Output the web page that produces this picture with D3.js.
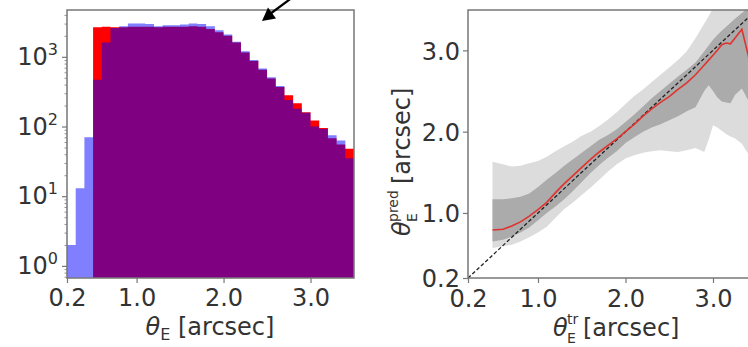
<!DOCTYPE html>
<html>
<head>
<meta charset="utf-8">
<script src="https://cdn.jsdelivr.net/npm/d3@7"></script>
<style>
  html, body { margin: 0; padding: 0; background: #fff; }
  svg { display: block; }
  text { font-family: "DejaVu Sans", sans-serif; fill: #333; }
</style>
</head>
<body>
<svg id="chart" width="748" height="347"></svg>
<script>
// ---------------- DATA ----------------
// Left panel: histogram, bins of width 0.1 arcsec (left edges)
const binLeft = [0.2,0.3,0.4,0.5,0.6,0.7,0.8,0.9,1.0,1.1,1.2,1.3,1.4,1.5,1.6,1.7,1.8,1.9,2.0,2.1,2.2,2.3,2.4,2.5,2.6,2.7,2.8,2.9,3.0,3.1,3.2,3.3,3.4];
const binWidth = 0.1;
const redCounts = [0,0,0,2650,2700,2650,2650,2700,2700,2700,2650,2700,2700,2700,2750,2700,2500,2250,2000,1600,1150,870,650,490,370,280,215,160,122,95,68,55,48];
const blueCounts = [2,13,70,470,1600,2600,2750,3000,3000,2950,2750,2850,2850,2900,3000,2950,2750,2400,2100,1650,1200,900,680,510,380,240,180,158,100,92,75,63,35];
const histXTicks = [0.2,1.0,2.0,3.0];
const histYTicks = [1,10,100,1000];
const histYExp = ["0","1","2","3"];

// Right panel: predicted vs true
const trueX   = [0.48,0.6,0.7,0.8,0.9,1.0,1.1,1.2,1.3,1.4,1.5,1.6,1.7,1.8,1.9,2.0,2.1,2.2,2.3,2.4,2.5,2.6,2.7,2.8,2.9,2.95,3.0,3.05,3.1,3.15,3.2,3.25,3.33,3.4,3.45];
const median  = [0.79,0.80,0.84,0.89,0.96,1.04,1.13,1.25,1.36,1.46,1.56,1.66,1.75,1.83,1.91,2.00,2.09,2.19,2.28,2.36,2.43,2.52,2.60,2.70,2.82,2.88,2.94,3.00,3.07,3.09,3.08,3.15,3.26,2.95,2.70];
const innerHi = [1.17,1.17,1.18,1.20,1.24,1.32,1.41,1.49,1.58,1.66,1.74,1.82,1.90,1.96,2.03,2.12,2.21,2.31,2.41,2.50,2.59,2.68,2.76,2.85,2.99,3.06,3.13,3.19,3.24,3.29,3.34,3.39,3.46,3.52,3.55];
const innerLo = [0.65,0.67,0.71,0.76,0.82,0.91,1.00,1.08,1.17,1.27,1.38,1.49,1.59,1.68,1.76,1.86,1.93,2.00,2.05,2.09,2.14,2.19,2.25,2.30,2.50,2.57,2.50,2.42,2.37,2.36,2.35,2.45,2.53,2.39,2.30];
const outerHi = [1.63,1.60,1.57,1.58,1.61,1.64,1.69,1.76,1.82,1.88,1.95,2.00,2.07,2.15,2.24,2.34,2.44,2.52,2.61,2.70,2.79,2.88,2.99,3.15,3.33,3.42,3.52,3.60,3.60,3.60,3.60,3.60,3.60,3.60,3.60];
const outerLo = [0.57,0.59,0.61,0.65,0.70,0.76,0.83,0.94,1.05,1.13,1.22,1.31,1.41,1.51,1.60,1.67,1.71,1.74,1.76,1.77,1.76,1.75,1.77,1.80,1.75,1.90,2.08,2.05,2.01,1.97,1.94,1.92,1.85,1.73,1.65];
const predTicks = [0.2,1.0,2.0,3.0];

// ---------------- DRAW ----------------
const svg = d3.select("#chart");
const FS = 24;      // tick label size
const LFS = 24;     // axis label size
const AX = "#777";

// ===== Left panel =====
const L = {x0: 67, x1: 354, y0: 10, y1: 278};
const lx = d3.scaleLinear().domain([0.2, 3.5]).range([L.x0, L.x1]);
const ly = d3.scaleLog().domain([0.67, 4700]).range([L.y1, L.y0]);

function stepArea(counts){
  const d = binLeft.map((b,i)=>({x:b, v:counts[i]})).filter(p=>p.v>0);
  d.push({x: d[d.length-1].x + binWidth, v: d[d.length-1].v});
  return d3.area().curve(d3.curveStepAfter).x(p=>lx(p.x)).y0(L.y1).y1(p=>ly(p.v))(d);
}
svg.append("path").attr("d", stepArea(redCounts)).attr("fill","#ff0000");
svg.append("path").attr("d", stepArea(blueCounts)).attr("fill","#0000ff").attr("fill-opacity",0.5);

function styleAxis(g){
  g.select(".domain").remove();
  g.selectAll(".tick line").attr("stroke", AX).attr("stroke-width", 1.2);
  g.selectAll(".tick text").attr("font-size", FS).attr("font-family","DejaVu Sans").attr("fill","#333");
}

// left x axis
svg.append("g").attr("transform",`translate(0,${L.y1})`)
  .call(d3.axisBottom(lx).tickValues(histXTicks).tickFormat(d=>d.toFixed(1)).tickSize(5).tickPadding(6))
  .call(styleAxis);

// left y axis (log) with minor ticks
const minor = [];
for (let k=-1;k<=3;k++) for (let m=2;m<=9;m++){ const v=m*Math.pow(10,k); if (v>=0.67 && v<=4700) minor.push(v); }
const ly_axis = svg.append("g").attr("transform",`translate(${L.x0},0)`)
  .call(d3.axisLeft(ly).tickValues(histYTicks.concat(minor)).tickFormat(()=>"").tickSize(5))
  .call(styleAxis);
ly_axis.selectAll(".tick line").attr("x2", d => histYTicks.includes(d) ? -5 : -2.5).attr("stroke-width", d => histYTicks.includes(d)?1.2:0.8);
histYTicks.forEach((v,i)=>{
  const t = svg.append("text").attr("x", 58).attr("y", ly(v)+8).attr("text-anchor","end").attr("font-size",FS);
  t.append("tspan").text("10");
  t.append("tspan").attr("font-size",16).attr("dy",-10).text(histYExp[i]);
});

// frame
svg.append("rect").attr("x",L.x0).attr("y",L.y0).attr("width",L.x1-L.x0).attr("height",L.y1-L.y0)
  .attr("fill","none").attr("stroke",AX).attr("stroke-width",1.5);

// left x label
{
  const t = svg.append("text").attr("x",210).attr("y",335).attr("text-anchor","middle").attr("font-size",LFS);
  t.append("tspan").attr("font-style","italic").text("θ");
  t.append("tspan").attr("font-size",16).attr("dy",5).text("E");
  t.append("tspan").attr("dy",-5).text(" [arcsec]");
}

// arrow annotation
svg.append("line").attr("x1",297).attr("y1",-6).attr("x2",270).attr("y2",14)
  .attr("stroke","#000").attr("stroke-width",2.2);
svg.append("polygon").attr("points","262,21 268,7.5 276,18.5").attr("fill","#000");

// ===== Right panel =====
const R = {x0: 468, y0: 10, y1: 278};
const rx = d3.scaleLinear().domain([0.2, 3.5]).range([468, 468 + 87.5*3.3]);
const ry = d3.scaleLinear().domain([0.2, 3.5]).range([278, 278 - 81.3*3.3]);

svg.append("defs").append("clipPath").attr("id","rclip")
  .append("rect").attr("x",R.x0).attr("y",R.y0).attr("width",320).attr("height",R.y1-R.y0);
const rp = svg.append("g").attr("clip-path","url(#rclip)");

const pts = trueX.map((x,i)=>({x, m: median[i], ih: innerHi[i], il: innerLo[i], oh: outerHi[i], ol: outerLo[i]}));
rp.append("path").datum(pts).attr("fill","#dcdcdc")
  .attr("d", d3.area().x(d=>rx(d.x)).y0(d=>ry(d.ol)).y1(d=>ry(d.oh)));
rp.append("path").datum(pts).attr("fill","#ababab")
  .attr("d", d3.area().x(d=>rx(d.x)).y0(d=>ry(d.il)).y1(d=>ry(d.ih)));
rp.append("line").attr("x1",rx(0.2)).attr("y1",ry(0.2)).attr("x2",rx(3.5)).attr("y2",ry(3.5))
  .attr("stroke","#222").attr("stroke-width",1.3).attr("stroke-dasharray","3.7,2.2");
rp.append("path").datum(pts).attr("fill","none").attr("stroke","#e0332f").attr("stroke-width",1.6)
  .attr("d", d3.line().x(d=>rx(d.x)).y(d=>ry(d.m)));

svg.append("g").attr("transform",`translate(0,${R.y1})`)
  .call(d3.axisBottom(rx).tickValues(predTicks).tickFormat(d=>d.toFixed(1)).tickSize(5).tickPadding(7))
  .call(styleAxis);
const ryAx = svg.append("g").attr("transform",`translate(${R.x0},0)`)
  .call(d3.axisLeft(ry).tickValues(predTicks).tickFormat(d=>d.toFixed(1)).tickSize(5).tickPadding(3))
  .call(styleAxis);
ryAx.selectAll(".tick text").attr("dy","0.36em");

// right frame
svg.append("rect").attr("x",R.x0).attr("y",R.y0).attr("width",400).attr("height",R.y1-R.y0)
  .attr("fill","none").attr("stroke",AX).attr("stroke-width",1.5);

// right x label: theta, stacked "tr" / "E", then [arcsec]
{
  const g = svg.append("g").attr("transform","translate(611,336)");
  const main = g.append("text").attr("font-size",LFS).attr("x",-58);
  main.append("tspan").attr("font-style","italic").text("θ");
  g.append("text").attr("x",-44).attr("y",-12).attr("font-size",14).text("tr");
  g.append("text").attr("x",-44).attr("y",7).attr("font-size",14).text("E");
  g.append("text").attr("x",-28).attr("font-size",LFS).text("[arcsec]");
}
// right y label (rotated)
{
  const g = svg.append("g").attr("transform","translate(410,148) rotate(-90)");
  g.append("text").attr("x",-88).attr("font-size",LFS).attr("font-style","italic").text("θ");
  g.append("text").attr("x",-74).attr("y",-12).attr("font-size",14).text("pred");
  g.append("text").attr("x",-74).attr("y",7).attr("font-size",14).text("E");
  g.append("text").attr("x",-36).attr("font-size",LFS).text("[arcsec]");
}
</script>
</body>
</html>
